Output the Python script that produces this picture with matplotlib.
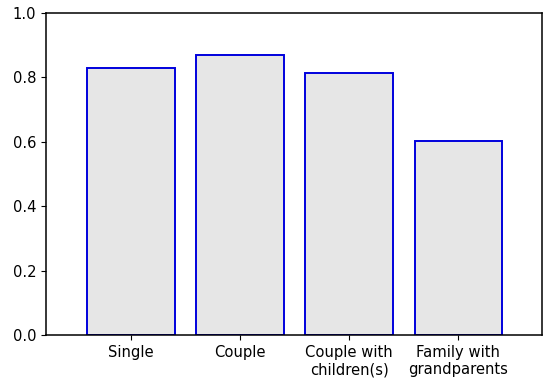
import matplotlib
matplotlib.use("Agg")
import matplotlib.pyplot as plt

# data
categories = ["Single", "Couple", "Couple with\nchildren(s)", "Family with\ngrandparents"]
values = [0.828, 0.870, 0.814, 0.603]

fig = plt.figure(figsize=(5.5, 3.83), dpi=100)
ax = fig.add_axes([0.0836, 0.1253, 0.902, 0.8407])

x = range(len(categories))
ax.bar(x, values, width=0.8, color="#e6e6e6", edgecolor="#0000dd", linewidth=1.4)

ax.set_xticks(list(x))
ax.set_xticklabels(categories, fontsize=10.6)
ax.set_xlim(-0.78, 3.77)
ax.set_ylim(0, 1.0)
ax.set_yticks([0.0, 0.2, 0.4, 0.6, 0.8, 1.0])
ax.tick_params(axis="y", labelsize=10.6)
for s in ax.spines.values():
    s.set_linewidth(1.1)

fig.savefig("out.png", dpi=100)
